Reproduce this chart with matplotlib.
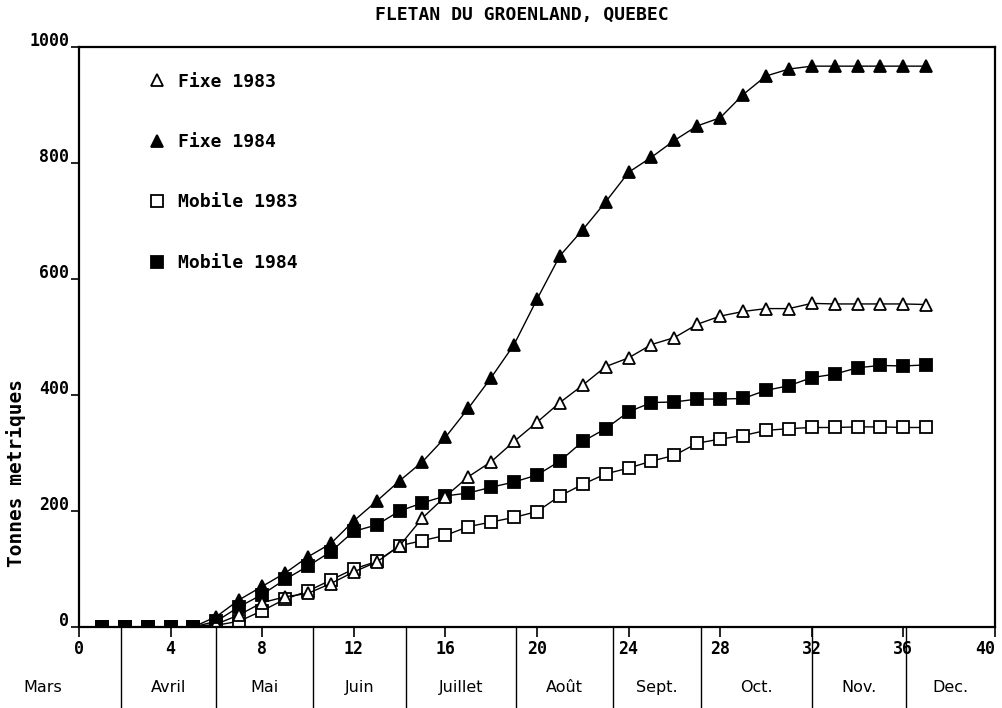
import matplotlib
matplotlib.use('Agg')
import matplotlib.pyplot as plt
import matplotlib.transforms as mtransforms
from matplotlib.lines import Line2D

# ---- data ----
weeks = list(range(1, 38))

fixe_1984 = [0, 0, 0, 0, 0, 18, 47, 70, 93, 121, 144, 183, 217, 252, 285,
             327, 377, 430, 487, 565, 640, 685, 733, 784, 810, 839, 864, 878,
             918, 950, 962, 967, 967, 967, 967, 967, 967]

fixe_1983 = [0, 0, 0, 0, 0, 5, 21, 42, 52, 58, 75, 95, 112, 140, 188,
             225, 259, 285, 320, 353, 387, 417, 449, 464, 487, 499, 522, 536,
             544, 549, 549, 558, 557, 557, 557, 557, 556]

mobile_1984 = [0, 0, 0, 0, 0, 10, 35, 56, 82, 105, 130, 165, 176, 200, 214,
               226, 231, 241, 250, 262, 286, 320, 342, 371, 387, 388, 393, 393,
               394, 408, 416, 430, 436, 447, 451, 450, 452]

mobile_1983 = [0, 0, 0, 0, 0, 3, 10, 28, 48, 62, 81, 100, 113, 140, 149,
               158, 173, 181, 189, 199, 226, 246, 264, 274, 286, 296, 317, 324,
               330, 339, 342, 344, 344, 345, 345, 344, 344]

months = ['Mars', 'Avril', 'Mai', 'Juin', 'Juillet', 'Août', 'Sept.', 'Oct.', 'Nov.', 'Dec.']
month_bounds = [-5, 1.85, 6.0, 10.2, 14.3, 19.1, 23.3, 27.15, 32.0, 36.1, 40]

x_ticks = [0, 4, 8, 12, 16, 20, 24, 28, 32, 36, 40]
y_ticks = [0, 200, 400, 600, 800, 1000]

title = 'FLETAN DU GROENLAND, QUEBEC'
ylabel = 'Tonnes metriques'

# ---- figure ----
fig = plt.figure(figsize=(10.02, 7.08), dpi=100)
ax = fig.add_axes([0.0788, 0.1144, 0.9142, 0.8192])

mono = dict(family='DejaVu Sans Mono', weight='bold')

ax.plot(weeks, mobile_1983, color='black', lw=1.0, marker='s', ms=8,
        mfc='white', mec='black', mew=1.3, label='Mobile 1983')
ax.plot(weeks, mobile_1984, color='black', lw=1.0, marker='s', ms=8,
        mfc='black', mec='black', mew=1.3, label='Mobile 1984')
ax.plot(weeks, fixe_1983, color='black', lw=1.0, marker='^', ms=9,
        mfc='white', mec='black', mew=1.3, label='Fixe 1983')
ax.plot(weeks, fixe_1984, color='black', lw=1.0, marker='^', ms=9,
        mfc='black', mec='black', mew=1.3, label='Fixe 1984')

ax.set_xlim(0, 40)
ax.set_ylim(0, 1000)
for s in ax.spines.values():
    s.set_linewidth(1.6)

ax.set_xticks(x_ticks)
ax.set_xticklabels([str(v) for v in x_ticks], fontsize=12, **mono)
ax.get_xticklabels()[-1].set_horizontalalignment('right')
ax.set_yticks(y_ticks)
ax.set_yticklabels([str(v) for v in y_ticks], fontsize=12, **mono)
ax.tick_params(axis='x', direction='out', length=7, width=1.2, pad=2)
ax.tick_params(axis='y', direction='out', length=6, width=1.2, pad=1)

# raise y tick labels so they sit on the tick line
offset = mtransforms.ScaledTranslation(0, 6 / 72, fig.dpi_scale_trans)
for lab in ax.get_yticklabels():
    lab.set_transform(lab.get_transform() + offset)

# month separators and labels under the axis
trans = mtransforms.blended_transform_factory(ax.transData, ax.transAxes)
for b in month_bounds[1:-1]:
    ax.plot([b, b], [0, -0.15], color='black', lw=1.0, transform=trans,
            clip_on=False)
for i, m in enumerate(months):
    c = (month_bounds[i] + month_bounds[i + 1]) / 2
    ax.text(c, -0.105, m, transform=trans, ha='center', va='center',
            fontsize=11.5, family='DejaVu Sans', clip_on=False)

# legend
handles = [
    Line2D([], [], ls='none', marker='^', ms=9, mfc='white', mec='black', mew=1.3),
    Line2D([], [], ls='none', marker='^', ms=9, mfc='black', mec='black', mew=1.3),
    Line2D([], [], ls='none', marker='s', ms=8, mfc='white', mec='black', mew=1.3),
    Line2D([], [], ls='none', marker='s', ms=8, mfc='black', mec='black', mew=1.3),
]
labels = ['Fixe 1983', 'Fixe 1984', 'Mobile 1983', 'Mobile 1984']
ax.legend(handles, labels, loc='upper left', bbox_to_anchor=(0.075, 0.956),
          frameon=False, borderpad=0, borderaxespad=0, handlelength=1.0,
          handletextpad=0.7, labelspacing=2.35,
          prop=dict(family='DejaVu Sans Mono', weight='bold', size=13))

fig.text(0.521, 0.979, title, ha='center', va='center', fontsize=13, **mono)
fig.text(0.016, 0.332, ylabel, ha='center', va='center', rotation=90,
         fontsize=14, **mono)

fig.savefig('out.png', dpi=100, facecolor='white')
